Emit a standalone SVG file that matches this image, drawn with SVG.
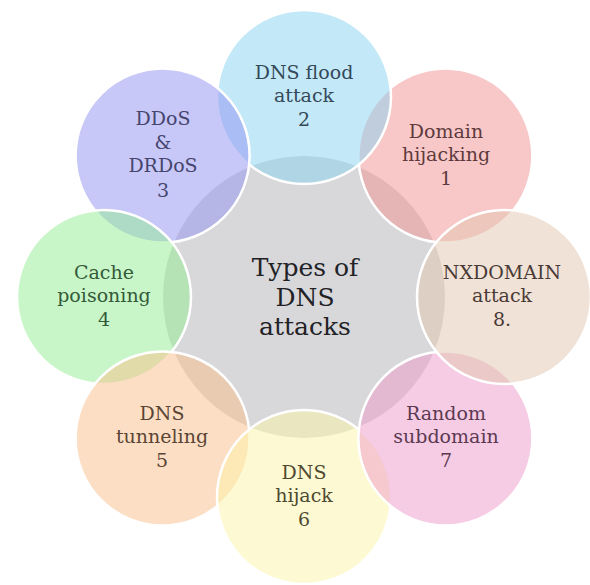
<svg xmlns="http://www.w3.org/2000/svg" width="590" height="585" viewBox="0 0 590 585">
<style>
.sat{stroke:#ffffff;stroke-width:2.5;fill-opacity:0.5}
text{font-family:'DejaVu Serif','Liberation Serif','Noto Serif',serif;text-anchor:middle}
.t{font-size:19px}
.c{font-size:25px;fill:#222226}
</style>
<rect width="590" height="585" fill="#ffffff"/>
<g id="center">
<circle cx="304" cy="297" r="141" fill="#d8d8da"/>
</g>
<g id="sat-circles">
<circle id="c1" class="sat" cx="445.4" cy="155.6" r="87" fill="#f19191"/>
<circle id="c2" class="sat" cx="304" cy="97" r="87" fill="#87d1ef"/>
<circle id="c3" class="sat" cx="162.6" cy="155.6" r="87" fill="#9191f1"/>
<circle id="c4" class="sat" cx="104" cy="297" r="87" fill="#91ed91"/>
<circle id="c5" class="sat" cx="162.6" cy="438.4" r="87" fill="#f9bd89"/>
<circle id="c6" class="sat" cx="304" cy="497" r="87" fill="#fbf3a5"/>
<circle id="c7" class="sat" cx="445.4" cy="438.4" r="87" fill="#ed99c9"/>
<circle id="c8" class="sat" cx="504" cy="297" r="87" fill="#e1c5ad"/>
</g>
<g id="connectors"></g>
<g id="center-label">
<text class="c" x="305" y="276">Types of</text>
<text class="c" x="305" y="306">DNS</text>
<text class="c" x="305" y="335">attacks</text>
</g>
<g id="node1" fill="#5e3a3c">
<text class="t" x="446" y="138">Domain</text>
<text class="t" x="446" y="161">hijacking</text>
<text class="t" x="446" y="185">1</text>
</g>
<g id="node2" fill="#34495a">
<text class="t" x="304" y="79">DNS flood</text>
<text class="t" x="304" y="102">attack</text>
<text class="t" x="304" y="126">2</text>
</g>
<g id="node3" fill="#45456e">
<text class="t" x="163" y="125">DDoS</text>
<text class="t" x="163" y="149">&amp;</text>
<text class="t" x="163" y="172">DRDoS</text>
<text class="t" x="163" y="197">3</text>
</g>
<g id="node4" fill="#355a3a">
<text class="t" x="104" y="279">Cache</text>
<text class="t" x="104" y="302">poisoning</text>
<text class="t" x="104" y="326">4</text>
</g>
<g id="node5" fill="#5a4535">
<text class="t" x="162" y="420">DNS</text>
<text class="t" x="162" y="443">tunneling</text>
<text class="t" x="162" y="467">5</text>
</g>
<g id="node6" fill="#4e4a30">
<text class="t" x="304" y="479">DNS</text>
<text class="t" x="304" y="502">hijack</text>
<text class="t" x="304" y="526">6</text>
</g>
<g id="node7" fill="#5c3a52">
<text class="t" x="446" y="420">Random</text>
<text class="t" x="446" y="443">subdomain</text>
<text class="t" x="446" y="467">7</text>
</g>
<g id="node8" fill="#4a3a36">
<text class="t" x="502" y="279">NXDOMAIN</text>
<text class="t" x="502" y="302">attack</text>
<text class="t" x="502" y="326">8.</text>
</g>
</svg>
